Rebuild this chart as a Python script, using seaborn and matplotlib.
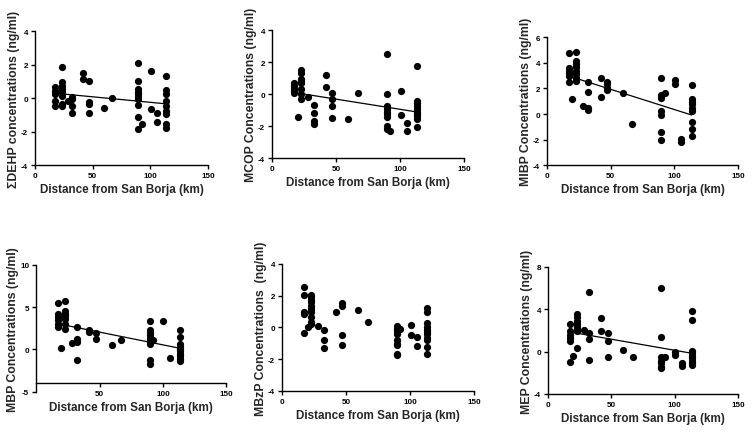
import numpy as np
import pandas as pd
import seaborn as sns
import matplotlib.pyplot as plt

# distance (km) of each sampling point
dist_dehp = [17]*5 + [23]*8 + [28.5] + [32.5]*4 + [42]*2 + [47]*4 + [59.5] + [67] + \
            [89.5]*10 + [92.5] + [100.5]*2 + [105.5]*2 + [113.5]*9
dehp = [0.65, 0.45, 0.25, -0.15, -0.45,
        1.84, 0.94, 0.74, 0.54, 0.34, 0.14, -0.36, -0.46,
        -0.16,
        0.1, -0.05, -0.46, -0.9,
        1.5, 1.14,
        1.04, -0.22, -0.36, -0.9,
        -0.56,
        0.0,
        2.1, 1.04, 0.54, 0.38, 0.24, 0.08, -0.06, -0.42, -1.1, -1.86,
        -1.56,
        1.64, -0.62,
        -0.86, -1.42,
        1.34, 0.5, 0.24, -0.16, -0.46, -0.76, -0.96, -1.56, -1.76]

dist_mcop = [17]*5 + [20] + [23]*8 + [28.5] + [32.5]*4 + [42]*2 + [47]*4 + [59.5] + [67] + \
            [89.5]*9 + [92.5] + [100.5]*2 + [105.5]*2 + [113.5]*10
mcop = [0.68, 0.52, 0.35, 0.2, 0.1,
        -1.45,
        1.51, 1.3, 0.97, 0.83, 0.68, 0.31, 0.0, -0.27,
        -0.15,
        -0.68, -1.2, -1.66, -1.87,
        1.18, 0.46,
        0.06, -0.27, -0.73, -1.5,
        -1.55,
        0.06,
        2.49, 0.0, -0.73, -0.9, -1.1, -1.24, -1.45, -2.0, -2.18,
        -2.28,
        0.2, -1.3,
        -1.82, -2.3,
        1.76, -0.41, -0.56, -0.73, -0.9, -1.1, -1.24, -1.39, -1.55, -2.07]

dist_mibp = [17]*6 + [20] + [23]*8 + [28.5] + [32.5]*4 + [42]*2 + [47]*4 + [59.5] + [67] + \
            [89.5]*7 + [92.5] + [100.5]*2 + [105.5]*2 + [113.5]*9
mibp = [4.76, 3.56, 3.38, 3.19, 2.98, 2.51,
        1.15,
        4.87, 4.16, 3.9, 3.64, 3.38, 3.12, 2.85, 2.59,
        0.63,
        2.54, 1.75, 0.5, 0.31,
        2.85, 1.31,
        2.54, 2.33, 2.07, 1.88,
        1.62,
        -0.76,
        2.85, 1.47, 1.28, 0.24, -0.1, -1.41, -2.04,
        1.68,
        2.64, 2.33,
        -1.94, -2.2,
        2.25, 1.15, 0.97, 0.76, 0.5, 0.24, -0.63, -1.15, -1.73]

dist_mbp = [17]*6 + [19.5] + [23]*7 + [28.5] + [32.5]*4 + [42]*2 + [47]*2 + [59.5] + [67] + \
           [89.5]*10 + [92.5] + [100.5] + [105.5] + [113.5]*10
mbp = [5.45, 4.2, 3.8, 3.5, 3.0, 2.6,
       0.16,
       5.76, 4.5, 4.2, 3.9, 3.6, 3.0, 2.43,
       0.75,
       2.63, 1.25, 0.86, -1.2,
       2.3, 2.04,
       2.0, 1.25,
       0.55,
       1.06,
       3.33, 2.24, 1.96, 1.65, 1.37, 1.14, 0.86, 0.59, -1.3, -1.76,
       1.14,
       3.33,
       -0.98,
       2.31, 1.53, 0.67, 0.35, 0.08, -0.2, -0.5, -0.82, -1.14, -1.37]

dist_mbzp = [17]*5 + [20] + [23]*10 + [28.5] + [32.5]*3 + [42] + [47]*4 + [59.5] + [67] + \
            [89.5]*9 + [92.5] + [100.5]*2 + [105.5]*2 + [113.5]*11
mbzp = [2.53, 2.05, 0.96, 0.82, -0.34,
        0.02,
        2.07, 1.9, 1.74, 1.6, 1.32, 1.13, 0.96, 0.65, 0.34, 0.19,
        0.08,
        -0.19, -0.82, -1.32,
        1.0,
        1.53, 1.38, -0.5, -1.13,
        1.07,
        0.34,
        0.06, -0.08, -0.23, -0.4, -0.82, -1.03, -1.13, -1.65, -1.72,
        -0.08,
        0.13, -0.5,
        -0.61, -1.15,
        1.21, 1.0, 0.27, 0.02, -0.15, -0.29, -0.44, -0.65, -0.82, -1.24, -1.7]

dist_mep = [17]*6 + [20] + [23]*8 + [28.5] + [32.5]*4 + [42]*2 + [47]*3 + [59.5] + [67] + \
           [89.5]*7 + [92.5] + [100.5]*2 + [105.5]*2 + [113.5]*9
mep = [2.62, 1.93, 1.61, 1.3, 0.98, -1.01,
       -0.38,
       3.57, 3.25, 2.94, 2.62, 2.37, 2.15, 1.93, 0.32,
       2.05,
       5.62, 1.74, 1.2, -0.76,
       3.19, 1.93,
       1.8, 1.04, -0.47,
       0.16,
       -0.47,
       6.03, 1.36, -0.54, -0.85, -1.1, -1.42, -1.58,
       -0.47,
       -0.06, -0.28,
       -1.1, -1.33,
       3.82, 3.0, 0.09, -0.16, -0.38, -0.6, -0.85, -1.1, -1.23]

panels = [
    (dist_dehp, dehp, "ΣDEHP concentrations (ng/ml)", (-4, 4), [-4, -2, 0, 2, 4], True),
    (dist_mcop, mcop, "MCOP Concentrations (ng/ml)", (-4, 4), [-4, -2, 0, 2, 4], True),
    (dist_mibp, mibp, "MIBP Concentrations (ng/ml)", (-4, 6), [-4, -2, 0, 2, 4, 6], True),
    (dist_mbp, mbp, "MBP Concentrations (ng/ml)", (-5, 10), [-5, 0, 5, 10], True),
    (dist_mbzp, mbzp, "MBzP Concentrations  (ng/ml)", (-4, 4), [-4, -2, 0, 2, 4], False),
    (dist_mep, mep, "MEP Concentrations (ng/ml)", (-4, 8), [-4, 0, 4, 8], True),
]

# axes boxes [left, bottom, width, height] in figure fractions
boxes = [
    [0.0464, 0.618, 0.2294, 0.308],
    [0.3607, 0.634, 0.2546, 0.294],
    [0.7255, 0.618, 0.2533, 0.294],
    [0.0480, 0.097, 0.2520, 0.292],
    [0.3740, 0.099, 0.2546, 0.292],
    [0.7268, 0.092, 0.2520, 0.292],
]

sns.set_style("ticks")
plt.rcParams['font.family'] = ['Liberation Sans', 'DejaVu Sans']
plt.rcParams['axes.unicode_minus'] = False

fig = plt.figure(figsize=(7.54, 4.35), dpi=100)

for i, (x, y, ylab, ylim, yticks, fit) in enumerate(panels):
    ax = fig.add_axes(boxes[i])
    df = pd.DataFrame({'dist': x, 'conc': y})
    if fit:
        sns.regplot(data=df, x='dist', y='conc', ax=ax, ci=None, color='black',
                    scatter_kws={'s': 27, 'alpha': 1, 'linewidths': 0},
                    line_kws={'linewidth': 0.9})
    else:
        sns.scatterplot(data=df, x='dist', y='conc', ax=ax, color='black',
                        s=27, linewidth=0)
    ax.set_xlim(0, 150)
    ax.set_ylim(*ylim)
    ax.set_yticks(yticks)
    if i == 3:
        ax.set_xticks([50, 100, 150])
        ax.spines['bottom'].set_position(('data', -4))
    else:
        ax.set_xticks([0, 50, 100, 150])
    sns.despine(ax=ax)
    for s in ['left', 'bottom']:
        ax.spines[s].set_linewidth(1.0)
        ax.spines[s].set_color('black')
    ax.tick_params(length=3, width=1.0, pad=2, labelsize=5.8, colors='black')
    for lab in ax.get_xticklabels() + ax.get_yticklabels():
        lab.set_fontweight('bold')
    ax.set_xlabel("Distance from San Borja (km)", fontsize=8.4, fontweight='bold', labelpad=3)
    ax.set_ylabel(ylab, fontsize=8.8, fontweight='bold', labelpad=1)

fig.savefig("out.png", dpi=100)
